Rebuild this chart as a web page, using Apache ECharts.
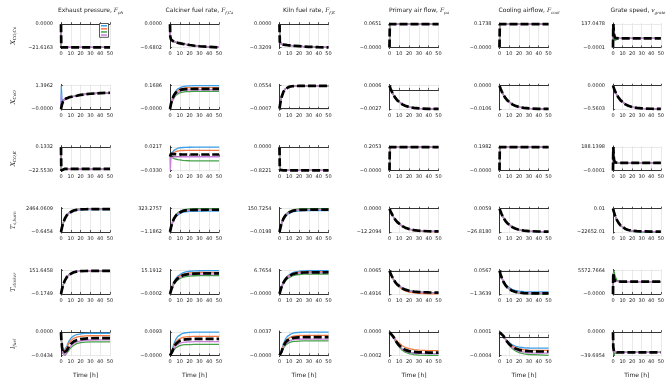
<!DOCTYPE html>
<html>
<head>
<meta charset="utf-8">
<script src="https://cdn.jsdelivr.net/npm/echarts@6/dist/echarts.min.js"></script>
<style>
  html, body { margin: 0; background: #fff; }
  #chart { width: 667px; height: 382px; }
</style>
</head>
<body>
<div id="chart"></div>
<script>
// time samples [h]
const T = [0, 0.3, 1, 2, 4, 6, 8, 10, 13, 16, 20, 25, 30, 40, 50];

const inputTitles = [
  'Exhaust pressure, {i|F}{s|ph}',
  'Calciner fuel rate, {i|F}{s|f,Ca}',
  'Kiln fuel rate, {i|F}{s|f,K}',
  'Primary air flow, {i|F}{s|pa}',
  'Cooling airflow, {i|F}{s|cool}',
  'Grate speed, {i|v}{s|grate}',
];
const outputNames = [
  '{i|X}{s|CO,Ca}', '{i|X}{s|CaO}', '{i|X}{s|CO,K}',
  '{i|T}{s|s,burn}', '{i|T}{s|clinker}', '{i|l}{s|fuel}',
];
const modelNames = ['Model 1', 'Model 2', 'Model 3', 'Model 4'];

// y tick values (min / max) per panel, row by row
const tickLo = [
  [-21.6163, -0.6802, -0.3209, 0, 0, -0.0001],
  [0, 0, -0.0007, -0.0027, -0.0106, -0.5603],
  [-22.5530, -0.0330, -0.8221, 0, 0, -0.0001],
  [-0.6454, -1.1862, -0.0198, -12.2094, -26.8180, -22652.01],
  [-0.1749, -0.0002, 0, -0.4916, -1.3639, 0],
  [-0.0434, 0, 0, -0.0002, -0.0004, -39.6954],
];
const tickHi = [
  [0, 0, 0, 0.0651, 0.1738, 137.0478],
  [1.3962, 0.1686, 0.0554, 0.0006, 0, 0],
  [0.1332, 0.0217, 0, 0.2053, 0.1982, 188.1398],
  [2464.0609, 323.2757, 150.7254, 0, 0.0059, 0.01],
  [151.6458, 15.1912, 6.7654, 0.0065, 0.0567, 5572.7664],
  [0, 0.0093, 0.0037, 0, 0.0001, 0],
];
const tickLoText = [
  ['−21.6163', '−0.6802', '−0.3209', '−0.0000', '−0.0000', '−0.0001'],
  ['−0.0000', '−0.0000', '−0.0007', '−0.0027', '−0.0106', '−0.5603'],
  ['−22.5530', '−0.0330', '−0.8221', '−0.0000', '−0.0000', '−0.0001'],
  ['−0.6454', '−1.1862', '−0.0198', '−12.2094', '−26.8180', '−22652.01'],
  ['−0.1749', '−0.0002', '−0.0000', '−0.4916', '−1.3639', '−0.0000'],
  ['−0.0434', '−0.0000', '−0.0000', '−0.0002', '−0.0004', '−39.6954'],
];
const tickHiText = [
  ['0.0000', '0.0000', '0.0000', '0.0651', '0.1738', '137.0478'],
  ['1.3962', '0.1686', '0.0554', '0.0006', '0.0000', '0.0000'],
  ['0.1332', '0.0217', '0.0000', '0.2053', '0.1982', '188.1398'],
  ['2464.0609', '323.2757', '150.7254', '0.0000', '0.0059', '0.01'],
  ['151.6458', '15.1912', '6.7654', '0.0065', '0.0567', '5572.7664'],
  ['0.0000', '0.0093', '0.0037', '0.0000', '0.0001', '0.0000'],
];

// responses: k = reference (black dashed), b/o/g/p = identified models
const k11 = [0, -21.5, -21.55, -21.58, -21.6, -21.6, -21.6, -21.61, -21.61, -21.61, -21.61, -21.616, -21.616, -21.616, -21.616];
const p11 = { k: k11, b: k11, o: k11, g: k11, p: k11 };
const k12 = [0, -0.36, -0.45, -0.48, -0.51, -0.53, -0.545, -0.555, -0.575, -0.59, -0.61, -0.63, -0.645, -0.665, -0.68];
const p12 = { k: k12, b: k12, o: k12, g: k12, p: k12 };
const k13 = [0, -0.24, -0.27, -0.278, -0.283, -0.287, -0.29, -0.293, -0.297, -0.3, -0.304, -0.309, -0.312, -0.317, -0.3209];
const p13 = { k: k13, b: k13, o: k13, g: k13, p: k13 };
const k14 = [0, 0.0651, 0.0651, 0.0651, 0.0651, 0.0651, 0.0651, 0.0651, 0.0651, 0.0651, 0.0651, 0.0651, 0.0651, 0.0651, 0.0651];
const p14 = { k: k14, b: k14, o: k14, g: k14, p: k14 };
const k15 = [0, 0.1738, 0.1738, 0.1738, 0.1738, 0.1738, 0.1738, 0.1738, 0.1738, 0.1738, 0.1738, 0.1738, 0.1738, 0.1738, 0.1738];
const p15 = { k: k15, b: k15, o: k15, g: k15, p: k15 };
const k16 = [0, 137.05, 80, 56, 53, 53, 53, 53, 53, 53, 53, 53, 53, 53, 53];
const p16 = { k: k16, b: k16, o: k16, g: [0, 137.05, 60, 42, 51, 53, 53, 53, 53, 53, 53, 53, 53, 53, 53], p: k16 };

const k21 = [0, 0.05, 0.26, 0.44, 0.6, 0.66, 0.69, 0.72, 0.76, 0.79, 0.84, 0.88, 0.91, 0.95, 0.97];
const p21 = {
  k: k21,
  b: [0, 1.3962, 0.5, 0.46, 0.6, 0.66, 0.69, 0.72, 0.76, 0.79, 0.84, 0.88, 0.91, 0.95, 0.97],
  o: k21, g: k21,
  p: [0, 0.9, 0.35, 0.44, 0.6, 0.66, 0.69, 0.72, 0.76, 0.79, 0.84, 0.88, 0.91, 0.95, 0.97],
};
const p22 = {
  k: [0, 0.012, 0.036, 0.063, 0.099, 0.119, 0.130, 0.136, 0.1415, 0.1435, 0.1445, 0.145, 0.145, 0.145, 0.145],
  b: [0, 0.012, 0.037, 0.066, 0.106, 0.131, 0.146, 0.155, 0.162, 0.1655, 0.1675, 0.1683, 0.1686, 0.1686, 0.1686],
  o: [0, 0.011, 0.034, 0.06, 0.098, 0.121, 0.134, 0.142, 0.149, 0.152, 0.154, 0.155, 0.155, 0.155, 0.155],
  g: [0, 0.009, 0.028, 0.05, 0.08, 0.099, 0.11, 0.117, 0.122, 0.125, 0.126, 0.127, 0.127, 0.127, 0.127],
  p: [0, 0.01, 0.03, 0.054, 0.088, 0.108, 0.12, 0.128, 0.134, 0.137, 0.1385, 0.139, 0.139, 0.139, 0.139],
};
const k23 = [0, 0.0052, 0.0153, 0.0268, 0.0405, 0.0474, 0.051, 0.0528, 0.054, 0.0545, 0.0547, 0.0548, 0.0548, 0.0548, 0.0548];
const p23 = { k: k23, b: k23, o: k23, g: [0, 0.0053, 0.0155, 0.027, 0.041, 0.048, 0.0516, 0.0535, 0.0546, 0.0551, 0.0553, 0.0554, 0.0554, 0.0554, 0.0554], p: k23 };
const k24 = [0.0006, 0.00048, 0.00021, -0.00013, -0.0007, -0.00114, -0.00149, -0.00175, -0.00205, -0.00225, -0.00243, -0.00255, -0.00262, -0.00268, -0.0027];
const p24 = { k: k24, b: k24, o: k24, g: k24, p: k24 };
const k25 = [0, -0.00039, -0.00125, -0.00234, -0.00417, -0.0056, -0.0067, -0.00756, -0.00851, -0.00917, -0.00973, -0.01013, -0.01035, -0.01053, -0.01058];
const p25 = { k: k25, b: k25, o: k25, g: k25, p: k25 };
const k26 = [0, -0.0207, -0.0661, -0.1238, -0.2202, -0.2958, -0.3541, -0.3995, -0.4499, -0.4847, -0.5144, -0.5356, -0.5469, -0.5564, -0.5592];
const p26 = { k: k26, b: k26, o: k26, g: k26, p: k26 };

const k31 = [0.1332, -22.553, -21.3, -21.1, -21.0, -21.0, -21.0, -21.0, -21.0, -21.0, -21.0, -21.0, -21.0, -21.0, -21.0];
const p31 = { k: k31, b: k31, o: k31, g: k31, p: k31 };
const p32 = {
  k: [0, 0.004, 0.006, 0.006, 0.0055, 0.005, 0.0047, 0.0046, 0.0045, 0.0044, 0.0044, 0.0044, 0.0044, 0.0044, 0.0044],
  b: [0, 0.001, 0.005, 0.009, 0.014, 0.0175, 0.0192, 0.0202, 0.0209, 0.0213, 0.0215, 0.0216, 0.0217, 0.0217, 0.0217],
  o: [0, 0.0008, 0.003, 0.006, 0.0095, 0.0115, 0.0127, 0.0134, 0.0139, 0.0141, 0.0142, 0.0143, 0.0143, 0.0143, 0.0143],
  g: [0, -0.0005, -0.0015, -0.003, -0.005, -0.0067, -0.0078, -0.0086, -0.0094, -0.0099, -0.0102, -0.0104, -0.0105, -0.0105, -0.0105],
  p: [0, -0.033, -0.004, -0.002, -0.0012, -0.001, -0.0009, -0.0008, -0.0008, -0.0008, -0.0008, -0.0008, -0.0008, -0.0008, -0.0008],
};
const k33 = [0, -0.8, -0.81, -0.815, -0.818, -0.82, -0.8221, -0.8221, -0.8221, -0.8221, -0.8221, -0.8221, -0.8221, -0.8221, -0.8221];
const p33 = { k: k33, b: k33, o: k33, g: k33, p: k33 };
const k34 = [0, 0.2053, 0.2053, 0.2053, 0.2053, 0.2053, 0.2053, 0.2053, 0.2053, 0.2053, 0.2053, 0.2053, 0.2053, 0.2053, 0.2053];
const p34 = { k: k34, b: k34, o: k34, g: k34, p: k34 };
const k35 = [0, 0.1982, 0.1982, 0.1982, 0.1982, 0.1982, 0.1982, 0.1982, 0.1982, 0.1982, 0.1982, 0.1982, 0.1982, 0.1982, 0.1982];
const p35 = { k: k35, b: k35, o: k35, g: k35, p: k35 };
const k36 = [0, 188.14, 90, 65, 61, 61, 61, 61, 61, 61, 61, 61, 61, 61, 61];
const p36 = { k: k36, b: k36, o: k36, g: [0, 188.14, 70, 55, 60, 61, 61, 61, 61, 61, 61, 61, 61, 61, 61], p: k36 };

const k41 = [0, 154, 482, 868, 1422, 1774, 2000, 2145, 2275, 2340, 2381, 2400, 2408, 2410, 2410];
const p41 = {
  k: k41, o: k41, p: k41,
  b: [0, 152, 474, 853, 1398, 1744, 1967, 2109, 2237, 2301, 2342, 2360, 2368, 2370, 2370],
  g: [0, 158, 493, 887, 1454, 1814, 2045, 2193, 2326, 2393, 2434, 2454, 2462, 2464, 2464],
};
const p42 = {
  k: [0, 19.7, 61.6, 110.9, 181.7, 226.7, 255.6, 274.1, 290.8, 299.1, 304.3, 306.8, 307.7, 308, 308],
  b: [0, 18.4, 57.6, 103.7, 169.9, 212, 239, 256.3, 271.9, 279.6, 284.5, 286.8, 287.7, 288, 288],
  o: [0, 20, 62.4, 112.3, 184.1, 229.6, 259, 277.7, 294.5, 303, 308.3, 310.8, 311.7, 312, 312],
  g: [0, 20.7, 64.7, 116.4, 190.7, 238, 268.3, 287.7, 305.2, 313.9, 319.4, 322, 323, 323.3, 323.3],
  p: [0, 19.6, 61.2, 110.2, 180.5, 225.2, 254, 272.3, 288.9, 297.1, 302.3, 304.8, 305.7, 306, 306],
};
const k43 = [0, 9.2, 28.8, 51.8, 85, 106, 119.5, 128.2, 135.9, 139.8, 142.3, 143.4, 143.9, 144, 144];
const p43 = {
  k: k43, p: k43,
  b: [0, 8.8, 27.6, 49.7, 81.4, 101.6, 114.5, 122.8, 130.3, 134, 136.3, 137.4, 137.9, 138, 138],
  o: [0, 9.3, 29.2, 52.6, 86.1, 107.5, 121.2, 129.9, 137.8, 141.8, 144.2, 145.4, 145.9, 146, 146],
  g: [0, 9.6, 30.1, 54.3, 88.9, 110.9, 125.1, 134.1, 142.3, 146.3, 148.9, 150.1, 150.6, 150.7, 150.7],
};
const k44 = [0, -0.4, -1.26, -2.4, -4.31, -5.84, -7.07, -8.05, -9.17, -9.97, -10.7, -11.26, -11.57, -11.86, -11.95];
const p44 = {
  k: k44, b: k44, g: k44, p: k44,
  o: [0, -0.4, -1.28, -2.44, -4.38, -5.95, -7.19, -8.19, -9.33, -10.15, -10.89, -11.45, -11.77, -12.06, -12.16],
};
const k45 = [0, -0.98, -3.13, -5.86, -10.41, -13.99, -16.75, -18.89, -21.28, -22.92, -24.33, -25.33, -25.86, -26.31, -26.45];
const p45 = {
  k: k45, o: k45, g: k45, p: k45,
  b: [0, -0.98, -3.13, -5.86, -10.41, -13.99, -16.75, -18.95, -21.5, -23.2, -24.6, -25.6, -26.2, -26.7, -26.8],
};
const k46 = [0, -1093, -3434, -6311, -10860, -14094, -16413, -18085, -19736, -20739, -21497, -21943, -22144, -22278, -22300];
const g46 = [0, -1110, -3488, -6411, -11032, -14316, -16672, -18371, -20047, -21066, -21837, -22290, -22493, -22629, -22652];
const p46 = { k: k46, b: g46, o: k46, g: g46, p: k46 };

const k51 = [0, 9.6, 30, 54, 88.5, 110.4, 124.5, 133.5, 141.6, 145.7, 148.2, 149.4, 149.9, 150, 150];
const p51 = {
  k: k51, o: k51, g: k51, p: k51,
  b: [0, 9.7, 30.3, 54.6, 89.4, 111.6, 125.8, 134.9, 143.1, 147.2, 149.8, 151, 151.4, 151.6, 151.6],
};
const p52 = {
  k: [0, 0.71, 2.22, 4.09, 6.93, 8.9, 10.26, 11.23, 12.14, 12.66, 13.05, 13.25, 13.35, 13.39, 13.4],
  b: [0, 0.8, 2.52, 4.63, 7.85, 10.09, 11.64, 12.73, 13.76, 14.36, 14.8, 15.02, 15.13, 15.18, 15.19],
  o: [0, 0.75, 2.34, 4.3, 7.29, 9.36, 10.8, 11.82, 12.77, 13.32, 13.73, 13.94, 14.04, 14.09, 14.1],
  g: [0, 0.64, 1.99, 3.66, 6.2, 7.97, 9.19, 10.06, 10.87, 11.34, 11.69, 11.87, 11.95, 11.99, 12],
  p: [0, 0.69, 2.16, 3.97, 6.72, 8.63, 9.96, 10.89, 11.78, 12.29, 12.66, 12.86, 12.95, 12.99, 13],
};
const p53 = {
  k: [0, 0.33, 1.05, 1.92, 3.26, 4.18, 4.83, 5.28, 5.71, 5.95, 6.14, 6.23, 6.27, 6.29, 6.3],
  b: [0, 0.36, 1.12, 2.06, 3.5, 4.49, 5.18, 5.67, 6.13, 6.39, 6.59, 6.69, 6.74, 6.76, 6.765],
  o: [0, 0.34, 1.08, 1.98, 3.36, 4.32, 4.98, 5.45, 5.89, 6.14, 6.33, 6.43, 6.47, 6.49, 6.5],
  g: [0, 0.31, 0.96, 1.77, 3, 3.85, 4.44, 4.86, 5.25, 5.48, 5.65, 5.74, 5.78, 5.79, 5.8],
  p: [0, 0.33, 1.03, 1.89, 3.21, 4.12, 4.75, 5.2, 5.62, 5.86, 6.04, 6.13, 6.18, 6.19, 6.2],
};
const k54 = [0.0065, -0.011, -0.049, -0.097, -0.178, -0.242, -0.291, -0.329, -0.371, -0.4, -0.425, -0.443, -0.452, -0.46, -0.463];
const pp54 = [0.0065, -0.01, -0.045, -0.09, -0.168, -0.232, -0.282, -0.322, -0.366, -0.397, -0.424, -0.445, -0.456, -0.465, -0.468];
const p54 = {
  k: k54, g: k54, b: pp54, p: pp54,
  o: [0.0065, -0.012, -0.052, -0.104, -0.189, -0.256, -0.308, -0.349, -0.393, -0.424, -0.451, -0.47, -0.48, -0.488, -0.4905],
};
const k55 = [0.0567, -0.011, -0.157, -0.337, -0.62, -0.822, -0.966, -1.071, -1.174, -1.236, -1.283, -1.311, -1.324, -1.332, -1.333];
const p55 = {
  k: k55, o: k55, p: k55,
  b: [0.0567, -0.007, -0.143, -0.311, -0.576, -0.765, -0.9, -0.998, -1.094, -1.152, -1.197, -1.222, -1.234, -1.242, -1.243],
  g: [0.0567, -0.013, -0.162, -0.345, -0.635, -0.841, -0.988, -1.095, -1.2, -1.264, -1.312, -1.341, -1.353, -1.362, -1.3639],
};
const k56 = [0, 5000, 3800, 3200, 2980, 2950, 2950, 2950, 2950, 2950, 2950, 2950, 2950, 2950, 2950];
const p56 = {
  k: k56, b: k56, o: k56,
  g: [0, 4500, 5572.77, 4400, 3300, 3000, 2950, 2950, 2950, 2950, 2950, 2950, 2950, 2950, 2950],
  p: [0, 5000, 3800, 3200, 2980, 2950, 2950, 2950, 2950, 2950, 2950, 2950, 2950, 2880, 2800],
};

const p61 = {
  k: [0, -0.012, -0.027, -0.039, -0.0425, -0.034, -0.027, -0.022, -0.0175, -0.0148, -0.013, -0.0119, -0.0114, -0.011, -0.011],
  b: [0, -0.012, -0.027, -0.038, -0.038, -0.026, -0.017, -0.0115, -0.0068, -0.0044, -0.003, -0.0023, -0.002, -0.002, -0.002],
  o: [0, -0.012, -0.027, -0.038, -0.039, -0.029, -0.021, -0.016, -0.0115, -0.0092, -0.0078, -0.007, -0.0067, -0.0066, -0.0066],
  g: [0, -0.012, -0.027, -0.0395, -0.0434, -0.039, -0.034, -0.029, -0.0245, -0.0215, -0.0197, -0.0187, -0.0182, -0.018, -0.018],
  p: [0, -0.012, -0.027, -0.0395, -0.0434, -0.037, -0.03, -0.0255, -0.0208, -0.018, -0.0162, -0.0151, -0.0146, -0.0143, -0.0143],
};
const p62 = {
  k: [0, 0, 0.00033, 0.00132, 0.0033, 0.00462, 0.00541, 0.00587, 0.00627, 0.00644, 0.00653, 0.0066, 0.0066, 0.0066, 0.0066],
  b: [0, 0, 0.00047, 0.00186, 0.00465, 0.00651, 0.00763, 0.00828, 0.00884, 0.00907, 0.00921, 0.0093, 0.0093, 0.0093, 0.0093],
  o: [0, 0, 0.00038, 0.00152, 0.0038, 0.00532, 0.00623, 0.00676, 0.00722, 0.00741, 0.00752, 0.0076, 0.0076, 0.0076, 0.0076],
  g: [0, 0, 0.00022, 0.00088, 0.0022, 0.00308, 0.00361, 0.00392, 0.00418, 0.00429, 0.00436, 0.0044, 0.0044, 0.0044, 0.0044],
  p: [0, 0, 0.00028, 0.0011, 0.00275, 0.00385, 0.00451, 0.0049, 0.00523, 0.00536, 0.00545, 0.0055, 0.0055, 0.0055, 0.0055],
};
const p63 = {
  k: [0, 0, 0.000145, 0.00058, 0.00145, 0.00203, 0.00238, 0.00258, 0.00276, 0.00283, 0.00287, 0.0029, 0.0029, 0.0029, 0.0029],
  b: [0, 0, 0.000185, 0.00074, 0.00185, 0.00259, 0.00303, 0.00329, 0.00352, 0.00361, 0.00366, 0.0037, 0.0037, 0.0037, 0.0037],
  o: [0, 0, 0.00016, 0.00064, 0.0016, 0.00224, 0.00262, 0.00285, 0.00304, 0.00312, 0.00317, 0.0032, 0.0032, 0.0032, 0.0032],
  g: [0, 0, 0.000115, 0.00046, 0.00115, 0.00161, 0.00189, 0.00205, 0.00219, 0.00224, 0.00228, 0.0023, 0.0023, 0.0023, 0.0023],
  p: [0, 0, 0.00013, 0.00052, 0.0013, 0.00182, 0.00213, 0.00231, 0.00247, 0.00254, 0.00257, 0.0026, 0.0026, 0.0026, 0.0026],
};
const pp64 = [0, 0, -0.000003, -0.00001, -0.00004, -0.000072, -0.0001, -0.00012, -0.000145, -0.000161, -0.000173, -0.00018, -0.000183, -0.000185, -0.000185];
const p64 = {
  k: [0, 0, -0.000003, -0.00001, -0.00004, -0.00007, -0.000095, -0.000115, -0.000137, -0.000152, -0.000163, -0.00017, -0.000173, -0.000175, -0.000175],
  b: pp64, p: pp64,
  o: [0, 0, -0.000003, -0.00001, -0.000035, -0.00006, -0.00008, -0.000097, -0.000117, -0.00013, -0.000142, -0.00015, -0.000155, -0.000158, -0.000158],
  g: [0, 0, -0.000003, -0.00001, -0.000043, -0.000077, -0.000106, -0.000128, -0.000155, -0.000172, -0.000185, -0.000193, -0.000197, -0.0002, -0.0002],
};
const p65 = {
  k: [0.0001, 0.0001, 0.0001, 0.00009, 0.00002, -0.00005, -0.00011, -0.00016, -0.00021, -0.00025, -0.00028, -0.0003, -0.00031, -0.000315, -0.000315],
  b: [0.0001, 0.0001, 0.0001, 0.00009, 0.00002, -0.00004, -0.00009, -0.00013, -0.00017, -0.0002, -0.00022, -0.000235, -0.00024, -0.000243, -0.000243],
  o: [0.0001, 0.0001, 0.0001, 0.00009, 0.00002, -0.000045, -0.0001, -0.00015, -0.0002, -0.00023, -0.00026, -0.000278, -0.000286, -0.00029, -0.00029],
  g: [0.0001, 0.0001, 0.0001, 0.00009, 0.00002, -0.00005, -0.00012, -0.00018, -0.00025, -0.0003, -0.00034, -0.000365, -0.00038, -0.00039, -0.0004],
  p: [0.0001, 0.0001, 0.0001, 0.00009, 0.00002, -0.00005, -0.00012, -0.00017, -0.00023, -0.00027, -0.00031, -0.00033, -0.000345, -0.00035, -0.00035],
};
const k66 = [0, -25, -33, -34.3, -34.5, -34.5, -34.5, -34.5, -34.5, -34.5, -34.5, -34.5, -34.5, -34.5, -34.5];
const p66 = { k: k66, b: k66, o: k66, p: k66, g: [0, -30, -39.69, -36, -34.6, -34.5, -34.5, -34.5, -34.5, -34.5, -34.5, -34.5, -34.5, -34.5, -34.5] };

const panels = [
  [p11, p12, p13, p14, p15, p16],
  [p21, p22, p23, p24, p25, p26],
  [p31, p32, p33, p34, p35, p36],
  [p41, p42, p43, p44, p45, p46],
  [p51, p52, p53, p54, p55, p56],
  [p61, p62, p63, p64, p65, p66],
];

// layout
const colLeft = [61, 170, 279.5, 389.5, 499.5, 613];
const colWidth = 49;
const titleCenter = [85.5, 194.5, 304, 414, 524, 633];
const rowTop = [23, 84.5, 146, 207.5, 269.5, 331];
const gridHeight = 25.6;
const lineColors = { b: '#3a9fe8', o: '#f27a46', g: '#46a24a', p: '#c97fdb' };
const FONT = 'DejaVu Sans';
const richTitle = {
  i: { fontFamily: 'DejaVu Serif', fontStyle: 'italic', fontSize: 6, color: '#222' },
  s: { fontFamily: 'DejaVu Serif', fontStyle: 'italic', fontSize: 4, color: '#222', padding: [3.5, 0, 0, 0] },
};
const richName = {
  i: { fontFamily: 'DejaVu Serif', fontStyle: 'italic', fontSize: 6.5, color: '#222' },
  s: { fontFamily: 'DejaVu Serif', fontStyle: 'italic', fontSize: 4.2, color: '#222', padding: [4, 0, 0, 0] },
};

const chart = echarts.init(document.getElementById('chart'), null, { renderer: 'canvas' });
const option = {
  animation: false,
  backgroundColor: '#fff',
  textStyle: { fontFamily: FONT },
  title: [],
  grid: [],
  xAxis: [],
  yAxis: [],
  series: [],
  legend: {
    data: modelNames,
    orient: 'vertical',
    left: 99.5,
    top: 23.5,
    itemWidth: 6,
    itemHeight: 1.5,
    itemGap: 1.6,
    icon: 'rect',
    padding: [1.5, 1.5, 1.5, 1.5],
    borderColor: '#333',
    borderWidth: 0.8,
    borderRadius: 0,
    backgroundColor: '#fff',
    formatter: () => '',
    textStyle: { fontSize: 1, padding: 0 },
  },
};

inputTitles.forEach((t, c) => {
  option.title.push({
    text: t,
    left: titleCenter[c],
    top: 2,
    textAlign: 'center',
    textStyle: { fontSize: 6, fontWeight: 'normal', color: '#222', fontFamily: FONT, rich: richTitle },
  });
});

for (let r = 0; r < 6; r++) {
  for (let c = 0; c < 6; c++) {
    const idx = r * 6 + c;
    const lo = tickLo[r][c];
    const hi = tickHi[r][c];
    const pad = (hi - lo) * 0.05;
    const loText = tickLoText[r][c];
    const hiText = tickHiText[r][c];
    option.grid.push({ left: colLeft[c], top: rowTop[r], width: colWidth, height: gridHeight });
    option.xAxis.push({
      gridIndex: idx,
      type: 'value',
      min: 0,
      max: 50,
      interval: 10,
      name: r === 5 ? 'Time [h]' : '',
      nameLocation: 'middle',
      nameGap: 16,
      nameTextStyle: { fontSize: 6, color: '#222', fontFamily: FONT },
      axisLine: { show: true, lineStyle: { color: '#333', width: 1 } },
      axisTick: { show: true, inside: true, length: 2, lineStyle: { color: '#333', width: 0.8 } },
      axisLabel: { fontSize: 5, color: '#222', margin: 3, fontFamily: FONT },
      splitLine: { show: true, lineStyle: { color: '#e3e3e3', width: 0.8 } },
    });
    option.yAxis.push({
      gridIndex: idx,
      type: 'value',
      min: lo - pad,
      max: hi + pad,
      name: c === 0 ? outputNames[r] : '',
      nameLocation: 'middle',
      nameRotate: 90,
      nameGap: 44,
      nameTextStyle: { fontSize: 6.5, color: '#222', rich: richName },
      axisLine: { show: true, lineStyle: { color: '#333', width: 1 } },
      axisTick: { show: true, inside: true, length: 2, customValues: [lo, hi], lineStyle: { color: '#333', width: 0.8 } },
      axisLabel: {
        customValues: [lo, hi],
        fontSize: 5,
        color: '#222',
        margin: 8,
        fontFamily: FONT,
        formatter: (v) => (Math.abs(v - lo) <= Math.abs(v - hi) ? loText : hiText),
      },
      splitLine: { show: true, lineStyle: { color: '#e3e3e3', width: 0.8 } },
    });
    const pan = panels[r][c];
    ['b', 'o', 'g', 'p'].forEach((key, m) => {
      option.series.push({
        type: 'line',
        name: modelNames[m],
        xAxisIndex: idx,
        yAxisIndex: idx,
        data: T.map((t, i) => [t, pan[key][i]]),
        showSymbol: false,
        symbol: 'none',
        color: lineColors[key],
        lineStyle: { color: lineColors[key], width: 1.3 },
        z: 2 + m,
      });
    });
    option.series.push({
      type: 'line',
      name: 'Reference',
      xAxisIndex: idx,
      yAxisIndex: idx,
      data: T.map((t, i) => [t, pan.k[i]]),
      showSymbol: false,
      symbol: 'none',
      color: '#000',
      lineStyle: { color: '#000', width: 2.7, type: [8, 3] },
      z: 8,
    });
  }
}

chart.setOption(option);
window.addEventListener('resize', () => chart.resize());
</script>
</body>
</html>
